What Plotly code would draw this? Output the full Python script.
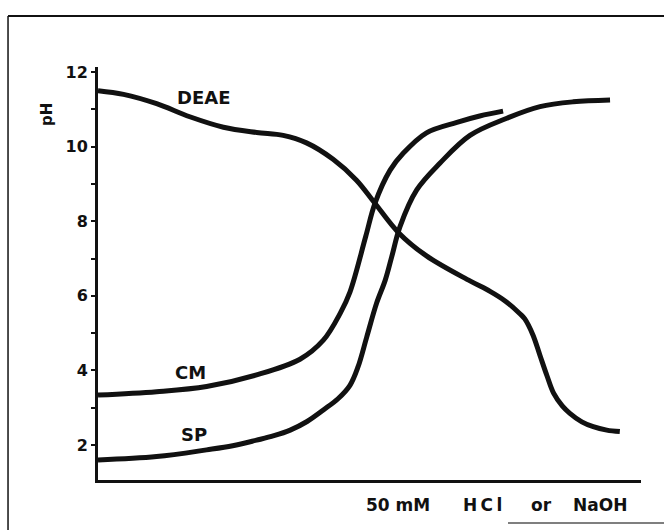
import plotly.graph_objects as go

# Titration curves of ion exchangers: pH versus added 50 mM HCl or NaOH
# (x in arbitrary volume units, 0-10)
deae_x = [0.0, 0.47, 1.08, 1.69, 2.31, 2.92, 3.41, 3.84, 4.33, 4.76, 5.10, 5.53,
          6.05, 6.85, 7.22, 7.51, 7.77, 7.86, 8.01, 8.14, 8.27, 8.39, 8.55, 8.69,
          8.91, 9.12, 9.37, 9.61]
deae_ph = [11.50, 11.40, 11.15, 10.80, 10.52, 10.38, 10.30, 10.10, 9.66, 9.10, 8.48, 7.70,
           7.07, 6.40, 6.12, 5.85, 5.52, 5.38, 4.95, 4.40, 3.85, 3.39, 3.05, 2.85,
           2.62, 2.49, 2.40, 2.36]

cm_x = [0.0, 1.08, 2.00, 2.92, 3.72, 4.15, 4.46, 4.64, 4.93, 5.10, 5.38, 5.62,
        6.05, 6.61, 7.03, 7.46]
cm_ph = [3.34, 3.43, 3.57, 3.88, 4.30, 4.81, 5.53, 6.10, 7.59, 8.48, 9.37, 9.82,
         10.37, 10.65, 10.82, 10.95]

sp_x = [0.0, 1.08, 2.00, 2.48, 2.92, 3.24, 3.54, 3.85, 4.15, 4.42, 4.64, 4.79,
        4.95, 5.13, 5.29, 5.41, 5.56, 5.87, 6.30, 6.85, 7.53, 8.14, 8.75, 9.43]
sp_ph = [1.60, 1.69, 1.87, 1.98, 2.13, 2.25, 2.40, 2.63, 2.94, 3.24, 3.60, 4.10,
         4.90, 5.80, 6.42, 7.05, 7.85, 8.84, 9.56, 10.30, 10.76, 11.07, 11.20, 11.25]

y_ticks = [2, 4, 6, 8, 10, 12]

# Curve labels: (text, x, pH)
curve_labels = [("DEAE", 1.95, 11.32), ("CM", 1.70, 3.94), ("SP", 1.77, 2.28)]

# Words of the x-axis caption, placed along the bottom
x_caption = ["50 mM", "H\u2009C\u2009l", "or", "NaOH"]
x_caption_pos = [0.5525, 0.708, 0.817, 0.9245]

INK = "#111111"
FONT = "DejaVu Sans"

fig = go.Figure()
for xs, ys in [(deae_x, deae_ph), (cm_x, cm_ph), (sp_x, sp_ph)]:
    fig.add_trace(go.Scatter(
        x=xs, y=ys, mode="lines",
        line=dict(color=INK, width=5, shape="spline", smoothing=1.0),
        hoverinfo="skip", showlegend=False,
    ))

for text, x, y in curve_labels:
    fig.add_annotation(x=x, y=y, text=f"<b>{text}</b>", showarrow=False,
                       xanchor="center", yanchor="middle",
                       font=dict(family=FONT, size=18, color=INK))

for text, px in zip(x_caption, x_caption_pos):
    fig.add_annotation(xref="paper", yref="paper", x=px, y=-0.0617,
                       text=f"<b>{text}</b>", showarrow=False,
                       xanchor="center", yanchor="middle",
                       font=dict(family=FONT, size=17, color=INK))

# y-axis title near the top of the axis
fig.add_annotation(xref="paper", yref="paper", x=-0.094, y=0.886,
                   text="<b>pH</b>", textangle=-90, showarrow=False,
                   xanchor="center", yanchor="middle",
                   font=dict(family=FONT, size=15, color=INK))

# Frame around the figure
frame = dict(color=INK, width=2)
fig.add_shape(type="line", xref="paper", yref="paper",
              x0=-0.1657, x1=1.05, y0=1.1235, y1=1.1235, line=frame)
fig.add_shape(type="line", xref="paper", yref="paper",
              x0=-0.1657, x1=-0.1657, y0=1.1235, y1=-0.125, line=dict(color=INK, width=1.5))
fig.add_shape(type="line", xref="paper", yref="paper",
              x0=0.755, x1=1.05, y0=-0.104, y1=-0.104, line=dict(color="#555555", width=1.5))

fig.update_layout(
    width=664, height=530,
    margin=dict(l=98, r=23, t=67, b=50),
    paper_bgcolor="white", plot_bgcolor="white",
    font=dict(family=FONT, color=INK),
    xaxis=dict(range=[0, 10], showline=True, linecolor=INK, linewidth=3,
               showgrid=False, zeroline=False, showticklabels=False, ticks=""),
    yaxis=dict(range=[1.062, 12.134], showline=True, linecolor=INK, linewidth=3,
               showgrid=False, zeroline=False,
               tickvals=y_ticks, ticktext=[f"<b>{v}</b>" for v in y_ticks],
               ticks="outside", ticklen=4, tickwidth=2, tickcolor=INK,
               tickfont=dict(family=FONT, size=16, color=INK),
               minor=dict(tickvals=[3, 5, 7, 9, 11], ticks="outside",
                          ticklen=4, tickwidth=2, tickcolor=INK)),
)

fig.write_html("out.html")
